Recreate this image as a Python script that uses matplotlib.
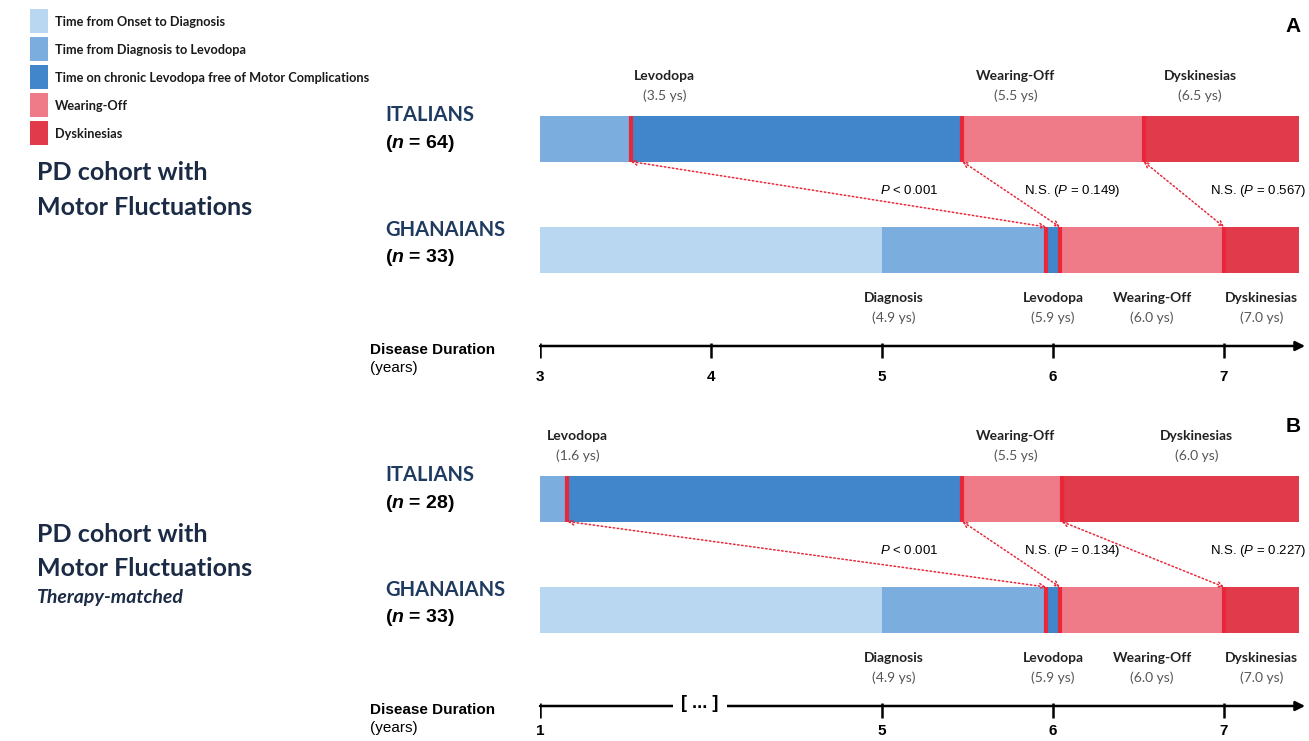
import numpy as np
import matplotlib.pyplot as plt
from matplotlib.patches import Rectangle

plt.rcParams['font.family'] = ['Lato', 'DejaVu Sans']
plt.rcParams['mathtext.fontset'] = 'custom'
plt.rcParams['mathtext.rm'] = 'Liberation Sans'
plt.rcParams['mathtext.it'] = 'Liberation Sans:italic'
plt.rcParams['mathtext.bf'] = 'Liberation Sans:bold'
plt.rcParams['mathtext.bfit'] = 'Liberation Sans:italic:bold'

W, H = 1309, 741

#----data
stages = ['Time from Onset to Diagnosis', 'Time from Diagnosis to Levodopa',
          'Time on chronic Levodopa free of Motor Complications', 'Wearing-Off', 'Dyskinesias']
stage_colors = ['#b9d7f0', '#7badde', '#4186ca', '#f07b88', '#e03a4b']

# stage start points (years) + end of bar, as drawn in the picture
ita_a = [3.0, 3.0, 3.53, 5.47, 6.53, 7.44]
gha_a = [3.0, 5.0, 5.96, 6.04, 7.0, 7.44]
ita_b = [1.0, 1.0, 1.32, 5.47, 6.05, 7.44]
gha_b = [1.0, 5.0, 5.96, 6.04, 7.0, 7.44]

ita_events = ['Levodopa', 'Wearing-Off', 'Dyskinesias']
ita_a_years = ['3.5', '5.5', '6.5']
ita_b_years = ['1.6', '5.5', '6.0']
ita_a_lab_x = [3.73, 5.78, 6.86]
ita_b_lab_x = [1.44, 5.78, 6.84]

gha_events = ['Diagnosis', 'Levodopa', 'Wearing-Off', 'Dyskinesias']
gha_years = ['4.9', '5.9', '6.0', '7.0']
gha_lab_x = [5.07, 6.0, 6.58, 7.22]

p_a = [r'$P$ < 0.001', r'N.S. ($P$ = 0.149)', r'N.S. ($P$ = 0.567)']
p_b = [r'$P$ < 0.001', r'N.S. ($P$ = 0.134)', r'N.S. ($P$ = 0.227)']
p_x = [5.16, 6.11, 7.20]

ticks_a = [3, 4, 5, 6, 7]
ticks_b = [1, 5, 6, 7]
n_a = [64, 33]
n_b = [28, 33]

RED = '#e8283a'
NAVY = '#1f3a60'
DARK = '#1c2b45'


def fwd(x):
    x = np.asarray(x, dtype=float)
    return np.where(x < 5, 5 - (5 - x) / 2, x)


def inv(t):
    t = np.asarray(t, dtype=float)
    return np.where(t < 5, 5 - (5 - t) * 2, t)


def ftxt(x, y, s, **kw):
    fig.text(x / W, 1 - y / H, s, **kw)


def draw_panel(ax, off, ita, gha, ita_years, ita_lab_x, pvals, ticks, xmin, nn, broken=False):
    ax.set_ylim(H, 0)
    ax.axis('off')
    ya, yg, bh = 138.5 + off, 250 + off, 46
    for edges, y in [(ita, ya), (gha, yg)]:
        for i in range(5):
            ax.barh(y, edges[i + 1] - edges[i], left=edges[i], height=bh,
                    color=stage_colors[i], linewidth=0)
        ax.vlines(edges[2:5], y - bh / 2, y + bh / 2, color=RED, lw=3)

    # connecting arrows
    for k in range(2, 5):
        ax.annotate('', xy=(gha[k], yg - bh / 2), xytext=(ita[k], ya + bh / 2),
                    arrowprops=dict(arrowstyle='<->', color=RED, lw=1.1, ls=':',
                                    mutation_scale=9, shrinkA=0, shrinkB=0))
    for s, x in zip(pvals, p_x):
        ax.text(x, 191 + off, s, ha='center', va='center', fontsize=9.5,
                family='Liberation Sans')

    # event labels
    for ev, yr, x in zip(ita_events, ita_years, ita_lab_x):
        ax.text(x, 76 + off, ev, ha='center', va='center', fontsize=10,
                weight='bold', color='#222222')
        ax.text(x, 96 + off, '(%s ys)' % yr, ha='center', va='center', fontsize=10,
                color='#555555')
    for ev, yr, x in zip(gha_events, gha_years, gha_lab_x):
        ax.text(x, 298 + off, ev, ha='center', va='center', fontsize=10,
                weight='bold', color='#222222')
        ax.text(x, 318 + off, '(%s ys)' % yr, ha='center', va='center', fontsize=10,
                color='#555555')

    # time axis
    ya_ax = 346 + off
    ax.annotate('', xy=(inv(7.474), ya_ax), xytext=(xmin, ya_ax),
                arrowprops=dict(arrowstyle='-|>', color='black', lw=1.8,
                                mutation_scale=14, shrinkA=0, shrinkB=0))
    ax.vlines(ticks, ya_ax - 3, ya_ax + 12, color='black', lw=1.8)
    tl_y = 377 + off if off == 0 else 731
    for t in ticks:
        ax.text(t, tl_y, str(t), ha='center', va='center', fontsize=11,
                weight='bold', family='Liberation Sans')
    if broken:
        ax.text(inv(3.936), ya_ax - 2, '[ ... ]', ha='center', va='center', fontsize=13,
                weight='bold', family='Liberation Sans',
                bbox=dict(boxstyle='square,pad=0.45', fc='white', ec='none'))

    ftxt(385, 115 + off, 'ITALIANS', fontsize=14.5, weight='bold', color=NAVY, va='center')
    ftxt(385, 143 + off, r'($\mathbfit{n}$ = %d)' % nn[0], fontsize=14, weight='bold',
         family='Liberation Sans', va='center')
    ftxt(385, 230 + off, 'GHANAIANS', fontsize=14.5, weight='bold', color=NAVY, va='center')
    ftxt(385, 258 + off, r'($\mathbfit{n}$ = %d)' % nn[1], fontsize=14, weight='bold',
         family='Liberation Sans', va='center')
    ftxt(370, 350 + off, 'Disease Duration', fontsize=11, weight='bold',
         family='Liberation Sans', va='center')
    ftxt(370, 368 + off, '(years)', fontsize=11, family='Liberation Sans', va='center')


fig = plt.figure(figsize=(W / 100, H / 100), dpi=100)
ax_pos = [540 / W, 0, (W - 540) / W, 1]

ax_a = fig.add_axes(ax_pos)
ax_a.set_xlim(3, 3 + (W - 540) / 171)
draw_panel(ax_a, 0, ita_a, gha_a, ita_a_years, ita_a_lab_x, p_a, ticks_a, 3, n_a)

ax_b = fig.add_axes(ax_pos)
ax_b.patch.set_visible(False)
ax_b.set_xscale('function', functions=(fwd, inv))
ax_b.set_xlim(1, 3 + (W - 540) / 171)
draw_panel(ax_b, 360, ita_b, gha_b, ita_b_years, ita_b_lab_x, p_b, ticks_b, 1, n_b,
           broken=True)

# legend (swatch column + labels)
for i, (lab, c) in enumerate(zip(stages, stage_colors)):
    top = 9 + i * 28
    fig.add_artist(Rectangle((30 / W, 1 - (top + 24) / H), 18 / W, 24 / H,
                             transform=fig.transFigure, color=c, lw=0))
    ftxt(55, top + 12.5, lab, fontsize=9.2, weight='bold', color='#1a1a1a', va='center')

ftxt(37, 173, 'PD cohort with', fontsize=18, weight='bold', color=DARK, va='center')
ftxt(37, 207, 'Motor Fluctuations', fontsize=18, weight='bold', color=DARK, va='center')
ftxt(37, 535, 'PD cohort with', fontsize=18, weight='bold', color=DARK, va='center')
ftxt(37, 568, 'Motor Fluctuations', fontsize=18, weight='bold', color=DARK, va='center')
ftxt(37, 597, 'Therapy-matched', fontsize=14, weight='bold', style='italic', color=DARK,
     va='center')

ftxt(1293, 27, 'A', fontsize=15, weight='bold', family='Liberation Sans', ha='center',
     va='center')
ftxt(1293, 427, 'B', fontsize=15, weight='bold', family='Liberation Sans', ha='center',
     va='center')

fig.savefig('out.png', dpi=100)
